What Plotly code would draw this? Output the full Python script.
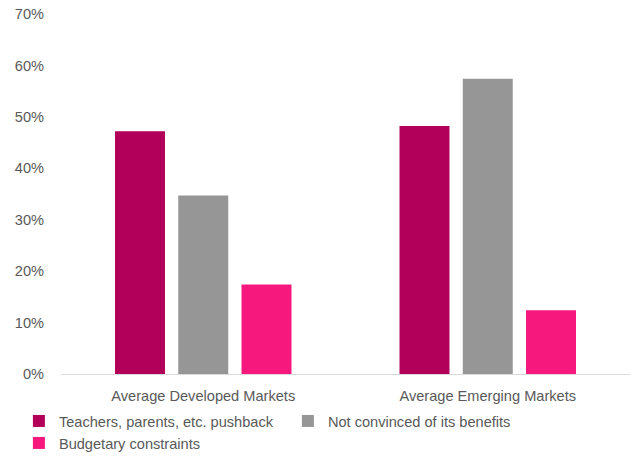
import plotly.graph_objects as go

categories = ["Average Developed Markets", "Average Emerging Markets"]
series_names = [
    "Teachers, parents, etc. pushback",
    "Not convinced of its benefits",
    "Budgetary constraints",
]
pushback = [0.472, 0.482]
not_convinced = [0.347, 0.574]
budget = [0.174, 0.124]
series_values = [pushback, not_convinced, budget]
colors = ["#B2005A", "#969696", "#F7187D"]

y_ticks = [0, 0.1, 0.2, 0.3, 0.4, 0.5, 0.6, 0.7]

fig = go.Figure()
for name, vals, col in zip(series_names, series_values, colors):
    fig.add_trace(go.Bar(
        x=categories, y=vals, name=name,
        marker=dict(color=col, line=dict(width=0)),
    ))

font_family = "Liberation Sans, Arial, sans-serif"

fig.update_layout(
    width=630, height=456,
    margin=dict(l=61, r=0, t=14, b=82, autoexpand=False),
    paper_bgcolor="white", plot_bgcolor="white",
    barmode="group", bargap=0.333, bargroupgap=0.21,
    font=dict(family=font_family, size=14.6, color="#595959"),
    xaxis=dict(
        showline=True, linecolor="#D9D9D9", linewidth=1,
        ticks="", showgrid=False, ticklabelstandoff=8,
        tickfont=dict(size=14.6, color="#595959"),
    ),
    yaxis=dict(
        range=[0, 0.7], tickvals=y_ticks, tickformat=".0%",
        showgrid=False, zeroline=False, showline=False, ticks="",
        ticklabelstandoff=16,
        tickfont=dict(size=14.6, color="#595959"),
    ),
    legend=dict(
        orientation="h", x=-0.074, xanchor="left", y=-0.086, yanchor="top",
        entrywidth=224, itemwidth=30,
        font=dict(size=14.6, color="#595959"),
        bgcolor="rgba(0,0,0,0)",
    ),
)

fig.write_html("out.html")
